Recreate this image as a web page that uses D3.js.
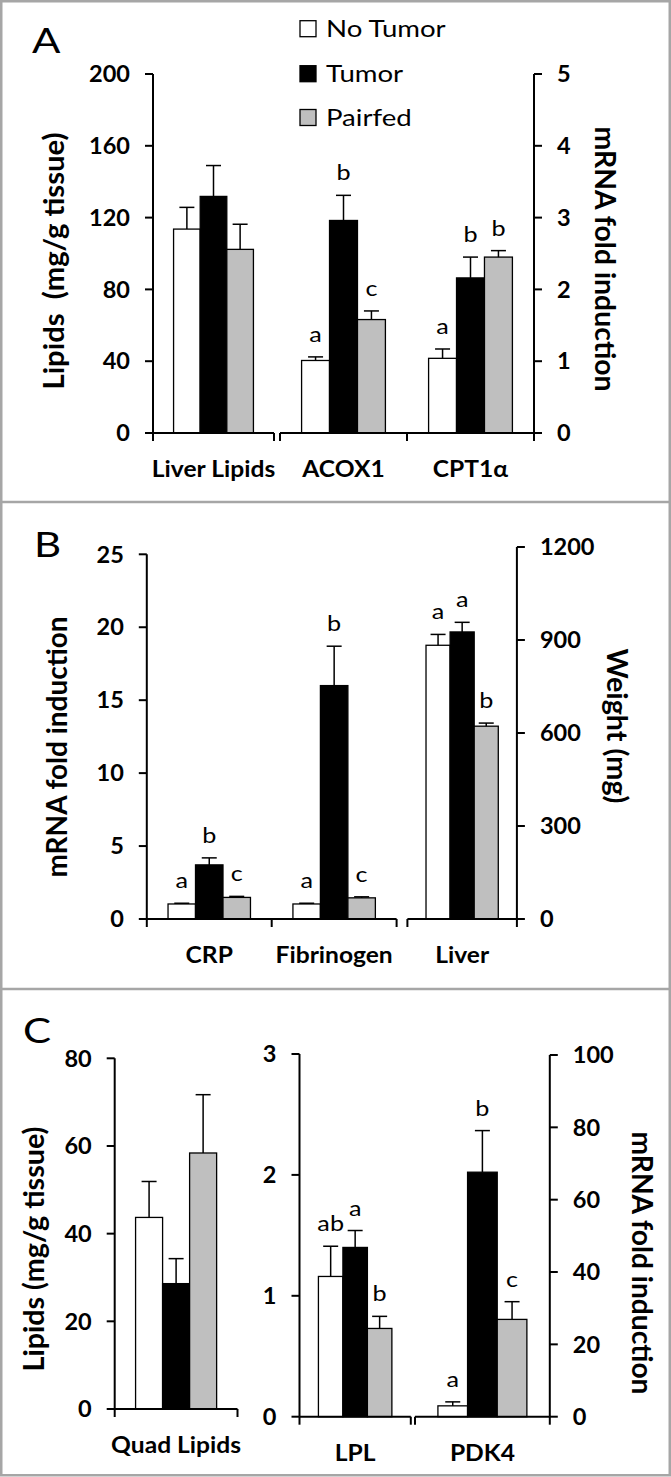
<!DOCTYPE html>
<html><head><meta charset="utf-8">
<script src="https://cdn.jsdelivr.net/npm/d3@7"></script>
<style>html,body{margin:0;padding:0;background:#fff}svg{display:block}text{white-space:pre}</style>
</head><body>
<svg id="chart" width="671" height="1477"></svg>
<script>
// ---------- DATA ----------
const seriesNames = ["No Tumor", "Tumor", "Pairfed"];

// Panel A
const catsA1 = ["Liver Lipids"];
const meanA1 = [[113.6, 131.8, 102.3]];
const errA1  = [[12.1, 17.2, 14.0]];
const lettersA1 = [["", "", ""]];
const ticksA1 = [0, 40, 80, 120, 160, 200];

const catsA2 = ["ACOX1", "CPT1α"];
const meanA2 = [[1.01, 2.96, 1.58], [1.04, 2.16, 2.45]];
const errA2  = [[0.05, 0.35, 0.12], [0.13, 0.29, 0.09]];
const lettersA2 = [["a", "b", "c"], ["a", "b", "b"]];
const ticksA2 = [0, 1, 2, 3, 4, 5];

// Panel B
const catsB1 = ["CRP", "Fibrinogen"];
const meanB1 = [[1.03, 3.71, 1.48], [1.03, 16.0, 1.45]];
const errB1  = [[0.05, 0.48, 0.07], [0.05, 2.7, 0.07]];
const lettersB1 = [["a", "b", "c"], ["a", "b", "c"]];
const ticksB1 = [0, 5, 10, 15, 20, 25];

const catsB2 = ["Liver"];
const meanB2 = [[883, 926, 622]];
const errB2  = [[35, 31, 10]];
const lettersB2 = [["a", "a", "b"]];
const ticksB2 = [0, 300, 600, 900, 1200];

// Panel C
const catsC1 = ["Quad Lipids"];
const meanC1 = [[43.7, 28.6, 58.4]];
const errC1  = [[8.2, 5.7, 13.3]];
const lettersC1 = [["", "", ""]];
const ticksC1 = [0, 20, 40, 60, 80];

const catsC2 = ["LPL"];
const meanC2 = [[1.16, 1.40, 0.73]];
const errC2  = [[0.25, 0.14, 0.10]];
const lettersC2 = [["ab", "a", "b"]];
const ticksC2 = [0, 1, 2, 3];

const catsC3 = ["PDK4"];
const meanC3 = [[3.0, 67.6, 26.9]];
const errC3  = [[1.1, 11.5, 4.9]];
const lettersC3 = [["a", "b", "c"]];
const ticksC3 = [0, 20, 40, 60, 80, 100];

// ---------- STYLE ----------
const SX_REG = 1.2;    // horizontal widening for regular-weight text
const SX_BOLD = 1.07;  // horizontal widening for bold text
const FONT = "Lato, 'Open Sans', sans-serif";
const fills = {"No Tumor": "#ffffff", "Tumor": "#000000", "Pairfed": "#bfbfbf"};

const svg = d3.select("#chart");

function label(g, x, y, s, o = {}) {
  const sx = o.rot ? 1 : (o.bold ? SX_BOLD : SX_REG);
  const t = g.append("text")
    .attr("transform", `translate(${x},${y}) scale(${sx},1)` + (o.rot ? ` rotate(${o.rot})` : ""))
    .attr("text-anchor", o.anchor || "start")
    .style("font-family", FONT)
    .style("font-size", (o.size || 20) + "px")
    .style("font-weight", o.bold ? "700" : "400")
    .attr("fill", "#000")
    .text(s);
  if (o.central) t.attr("dominant-baseline", "central");
  if (o.len) t.attr("textLength", o.len).attr("lengthAdjust", "spacingAndGlyphs");
  return t;
}

// draws one sub-plot: bars, error bars, letters, x axis segment, optional y axis
function plot(cfg) {
  const g = svg.append("g");
  const y = d3.scaleLinear().domain([0, cfg.ticks[cfg.ticks.length - 1]]).range(cfg.yRange);
  const x0 = d3.scaleBand().domain(cfg.cats).range(cfg.xRange).paddingInner(0.34).paddingOuter(0.17);
  const x1 = d3.scaleBand().domain(seriesNames).range([0, x0.bandwidth()]);
  const y0 = y(0);

  cfg.cats.forEach((c, ci) => {
    seriesNames.forEach((s, si) => {
      const v = cfg.mean[ci][si], e = cfg.err[ci][si];
      const bx = x0(c) + x1(s), bw = x1.bandwidth(), cx = bx + bw / 2;
      g.append("rect").attr("x", bx).attr("y", y(v)).attr("width", bw).attr("height", y0 - y(v))
        .attr("fill", fills[s]).attr("stroke", "#000").attr("stroke-width", 1.3);
      g.append("line").attr("x1", cx).attr("x2", cx).attr("y1", y(v)).attr("y2", y(v + e))
        .attr("stroke", "#000").attr("stroke-width", 1.5);
      g.append("line").attr("x1", cx - 7.5).attr("x2", cx + 7.5).attr("y1", y(v + e)).attr("y2", y(v + e))
        .attr("stroke", "#000").attr("stroke-width", 1.5);
      const L = cfg.letters[ci][si];
      if (L) label(g, cx, y(v + e) - 15, L, {anchor: "middle", size: 21});
    });
    label(g, x0(c) + x0.bandwidth() / 2, y0 + 44, c, {anchor: "middle", size: 23, bold: true});
  });

  // x axis segment with tick marks at category boundaries
  g.append("line").attr("x1", cfg.xRange[0]).attr("x2", cfg.xRange[1]).attr("y1", y0).attr("y2", y0)
    .attr("stroke", "#000").attr("stroke-width", 2);
  const edges = [cfg.xRange[0]].concat(cfg.cats.map(c => x0(c) + x0.bandwidth() + x0.step() * 0.17));
  edges.forEach(ex => g.append("line").attr("x1", ex).attr("x2", ex).attr("y1", y0).attr("y2", y0 + 8)
    .attr("stroke", "#000").attr("stroke-width", 2));

  // y axis
  if (cfg.axis) {
    const ax = cfg.axis === "left" ? cfg.xRange[0] : cfg.xRange[1];
    const dir = cfg.axis === "left" ? -1 : 1;
    g.append("line").attr("x1", ax).attr("x2", ax).attr("y1", y0).attr("y2", y(cfg.ticks[cfg.ticks.length - 1]))
      .attr("stroke", "#000").attr("stroke-width", 2);
    cfg.ticks.forEach(t => {
      g.append("line").attr("x1", ax).attr("x2", ax + dir * 8).attr("y1", y(t)).attr("y2", y(t))
        .attr("stroke", "#000").attr("stroke-width", 2);
      label(g, ax + dir * 23, y(t), t, {anchor: cfg.axis === "left" ? "end" : "start", size: 22, bold: true, central: true});
    });
  }
  return g;
}

// ---------- FRAME ----------
const frameColor = "#a6a6a6";
svg.append("rect").attr("x", 1.25).attr("y", 1.25).attr("width", 668.5).attr("height", 1474)
  .attr("fill", "none").attr("stroke", frameColor).attr("stroke-width", 2.5);
[502, 989].forEach(yy => svg.append("line").attr("x1", 0).attr("x2", 671).attr("y1", yy).attr("y2", yy)
  .attr("stroke", frameColor).attr("stroke-width", 2.5));

// ---------- PANEL A ----------
plot({cats: catsA1, mean: meanA1, err: errA1, letters: lettersA1, ticks: ticksA1,
      xRange: [153, 274], yRange: [433, 74], axis: "left"});
plot({cats: catsA2, mean: meanA2, err: errA2, letters: lettersA2, ticks: ticksA2,
      xRange: [280, 534], yRange: [433, 74], axis: "right"});
label(svg, 32, 53, "A", {size: 35});
label(svg, 52, 261, "Lipids  (mg/g tissue)", {rot: -90, anchor: "middle", size: 29, bold: true, central: true, len: 257});
label(svg, 606, 259, "mRNA fold induction", {rot: 90, anchor: "middle", size: 29, bold: true, central: true, len: 265});
seriesNames.forEach((s, i) => {
  const top = [20.7, 65.7, 109.5][i];
  svg.append("rect").attr("x", 300).attr("y", top).attr("width", 16).attr("height", 16)
    .attr("fill", fills[s]).attr("stroke", "#000").attr("stroke-width", 1.3);
  label(svg, 326, top + 16, s, {size: 23});
});

// ---------- PANEL B ----------
plot({cats: catsB1, mean: meanB1, err: errB1, letters: lettersB1, ticks: ticksB1,
      xRange: [146.8, 396.6], yRange: [919, 554.3], axis: "left"});
plot({cats: catsB2, mean: meanB2, err: errB2, letters: lettersB2, ticks: ticksB2,
      xRange: [407.4, 516.9], yRange: [919, 547], axis: "right"});
label(svg, 34, 557, "B", {size: 35});
label(svg, 55, 747, "mRNA fold induction", {rot: -90, anchor: "middle", size: 29, bold: true, central: true, len: 261});
label(svg, 618, 726, "Weight (mg)", {rot: 90, anchor: "middle", size: 29, bold: true, central: true, len: 155});

// ---------- PANEL C ----------
plot({cats: catsC1, mean: meanC1, err: errC1, letters: lettersC1, ticks: ticksC1,
      xRange: [114.7, 237.5], yRange: [1409, 1058.3], axis: "left"});
plot({cats: catsC2, mean: meanC2, err: errC2, letters: lettersC2, ticks: ticksC2,
      xRange: [299.5, 410.8], yRange: [1416.7, 1054], axis: "left"});
plot({cats: catsC3, mean: meanC3, err: errC3, letters: lettersC3, ticks: ticksC3,
      xRange: [415, 549.8], yRange: [1416.7, 1055], axis: "right"});
label(svg, 23, 1043, "C", {size: 35});
label(svg, 32, 1249, "Lipids (mg/g tissue)", {rot: -90, anchor: "middle", size: 29, bold: true, central: true, len: 245});
label(svg, 643, 1263, "mRNA fold induction", {rot: 90, anchor: "middle", size: 29, bold: true, central: true, len: 263});
</script>
</body></html>
